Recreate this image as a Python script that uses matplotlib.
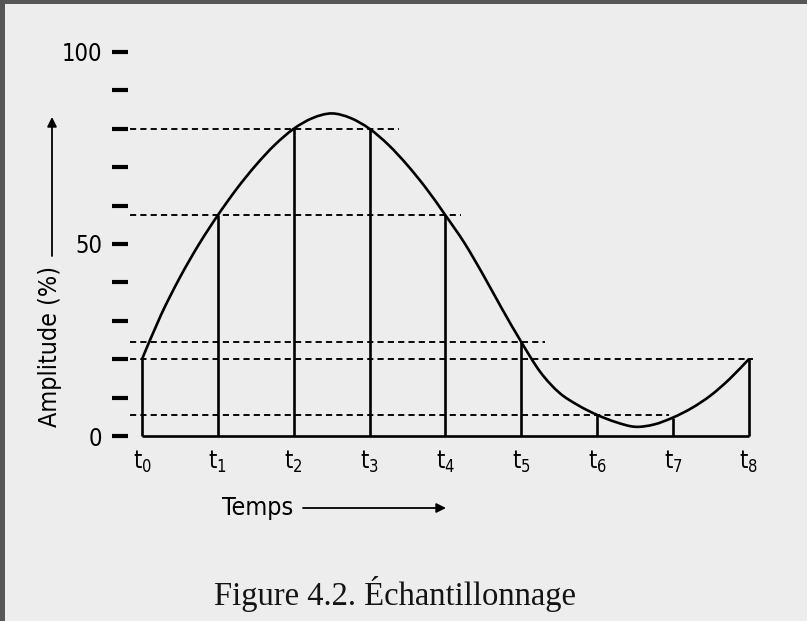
import numpy as np
import matplotlib
matplotlib.use("Agg")
import matplotlib.pyplot as plt
from matplotlib.path import Path
from matplotlib.patches import PathPatch, Rectangle

# ---- data ----
sample_labels = [r"$\mathregular{t_{%d}}$" % i for i in range(9)]
sample_t = [0, 1, 2, 3, 4, 5, 6, 7, 8]
sample_values = [20, 57.5, 80, 80, 57.5, 24.5, 5.5, 4.8, 20]

# continuous signal, read every quarter of a sampling period
curve_t = [0, 0.25, 0.5, 0.75, 1, 1.25, 1.5, 1.75, 2, 2.25, 2.5, 2.75, 3,
           3.25, 3.5, 3.75, 4, 4.25, 4.5, 4.75, 5, 5.25, 5.5, 5.75, 6,
           6.25, 6.5, 6.75, 7, 7.25, 7.5, 7.75, 8]
curve_v = [20, 31.5, 41.3, 49.9, 57.5, 64.4, 70.5, 75.8, 80, 82.8, 84, 82.8, 80,
           75.8, 70.5, 64.4, 57.5, 50.3, 41.9, 33.0, 24.5, 16.7, 11.3, 8.0, 5.5,
           3.6, 2.4, 3.0, 4.8, 7.3, 10.6, 14.9, 20]

# quantisation levels (dashed) and where each dashed line stops
level_values = [80, 57.5, 24.5, 20, 5.5]
level_ends = [3.39, 4.2, 5.31, 8.05, 6.95]

y_major = [0, 50, 100]
y_minor = [10, 20, 30, 40, 60, 70, 80, 90]

caption = "Figure 4.2. Échantillonnage"
ylabel = "Amplitude (%)"
xlabel = "Temps"

# ---- figure ----
W, H = 807, 621
fig = plt.figure(figsize=(W / 100, H / 100), dpi=100)
fig.patch.set_facecolor("#565656")
fig.add_artist(Rectangle((5 / W, 0), 1 - 5 / W, 1 - 4 / H, transform=fig.transFigure,
                         facecolor="#ededed", edgecolor="none", zorder=-10))

sans = ["DejaVu Sans"]
plt.rcParams["font.family"] = sans
plt.rcParams["font.stretch"] = "condensed"
plt.rcParams["mathtext.default"] = "regular"

ax = fig.add_axes([128 / W, 1 - 440 / H, (760 - 128) / W, (440 - 45) / H])
ax.patch.set_visible(False)
ax.set_xlim(-0.1846, 8.148)
ax.set_ylim(-1.04, 101.82)
for s in ax.spines.values():
    s.set_visible(False)

# smooth curve (Catmull-Rom through the read points)
P = np.column_stack([curve_t, curve_v]).astype(float)
Pe = np.vstack([P[0], P, P[-1]])
verts = [tuple(P[0])]
codes = [Path.MOVETO]
for i in range(len(P) - 1):
    p0, p1, p2, p3 = Pe[i], Pe[i + 1], Pe[i + 2], Pe[i + 3]
    c1 = p1 + (p2 - p0) / 6.0
    c2 = p2 - (p3 - p1) / 6.0
    verts += [tuple(c1), tuple(c2), tuple(p2)]
    codes += [Path.CURVE4] * 3
ax.add_patch(PathPatch(Path(verts, codes), facecolor="none", edgecolor="black",
                       lw=1.9, capstyle="round", joinstyle="round", zorder=4))

# sample lines
ax.vlines(sample_t, 0, sample_values, colors="black", lw=1.9, zorder=3)
ax.hlines(0, sample_t[0], sample_t[-1], colors="black", lw=1.9, zorder=3)

# dashed levels
x_start = -0.16
for v, e in zip(level_values, level_ends):
    ax.plot([x_start, e], [v, v], color="black", lw=1.35,
            linestyle=(0, (3.3, 2.2)), zorder=2)

# ticks
ax.set_yticks(y_major)
ax.set_yticklabels([str(v) for v in y_major])
ax.set_yticks(y_minor, minor=True)
ax.tick_params(axis="y", which="both", direction="out", length=11.5, width=3.0,
               color="black", pad=7, labelsize=17)
ax.set_xticks(sample_t)
ax.set_xticklabels(sample_labels)
ax.tick_params(axis="x", which="both", length=0, pad=6, labelsize=17)

# axis titles with arrows
fig.text(50 / W, 1 - 346 / H, ylabel, rotation=90, ha="center", va="center",
         fontsize=18)
ax.annotate("", xy=(52 / W, 1 - 117 / H), xytext=(52 / W, 1 - 256 / H),
            xycoords="figure fraction", textcoords="figure fraction",
            arrowprops=dict(arrowstyle="-|>", lw=1.3, color="black",
                            mutation_scale=14, shrinkA=0, shrinkB=0))
fig.text(258 / W, 1 - 508 / H, xlabel, ha="center", va="center", fontsize=18)
ax.annotate("", xy=(446 / W, 1 - 508 / H), xytext=(303 / W, 1 - 508 / H),
            xycoords="figure fraction", textcoords="figure fraction",
            arrowprops=dict(arrowstyle="-|>", lw=1.3, color="black",
                            mutation_scale=14, shrinkA=0, shrinkB=0))

fig.text(395 / W, 1 - 594 / H, caption, ha="center", va="center", fontsize=23.5,
         family=["Liberation Serif", "DejaVu Serif"], stretch="normal",
         color="#141414")

fig.savefig("out.png", dpi=100, facecolor=fig.get_facecolor())
